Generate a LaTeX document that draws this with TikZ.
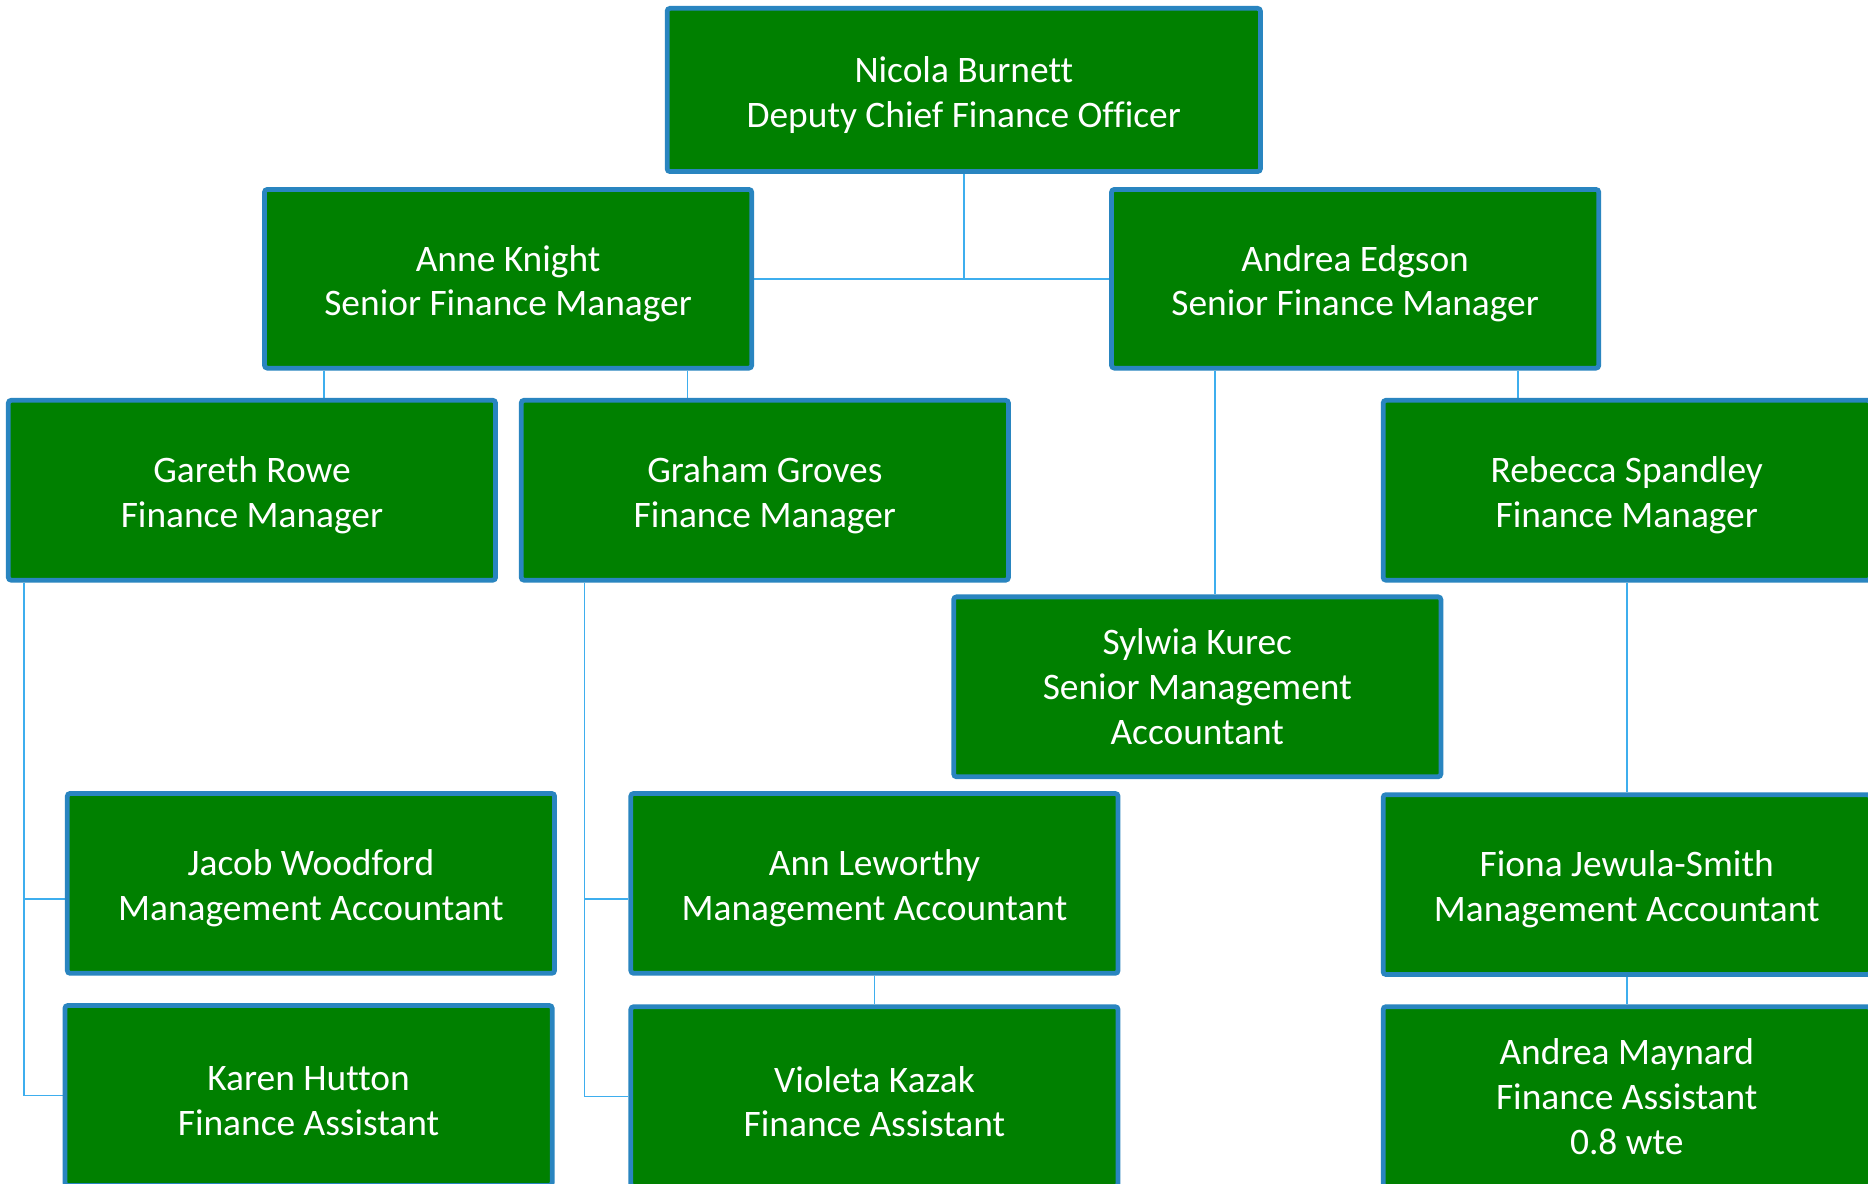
\documentclass[tikz,border=0pt]{standalone}
\usepackage{fontspec}
\setmainfont{Carlito}[Ligatures=NoCommon]
\usetikzlibrary{backgrounds}
\definecolor{boxgreen}{RGB}{0,128,0}
\definecolor{boxborder}{RGB}{41,133,192}
\definecolor{linkblue}{RGB}{62,174,238}
\newcommand{\toplift}{\rule{0pt}{15pt}}
\tikzset{
  person/.style={draw=boxborder, fill=boxgreen, line width=2pt, rounded corners=1.2pt,
    text=white, align=center, inner sep=0pt,
    minimum width=204.5pt, minimum height=75.5pt,
    font=\fontsize{15.7}{18.75}\selectfont},
  link/.style={draw=linkblue, line width=0.7pt}
}
\begin{document}
\begin{tikzpicture}[x=0.5pt, y=-0.5pt]
\useasboundingbox (0,0) rectangle (1568,993);
\clip (0,0) rectangle (1568,993);
\node[person, minimum width=249pt, minimum height=68.5pt] (nb) at (809,75.5) {\toplift Nicola Burnett\\Deputy Chief Finance Officer};
\node[person, minimum height=75pt] (ak) at (426.5,234) {\toplift Anne Knight\\Senior Finance Manager};
\node[person, minimum height=75pt] (ae) at (1137.5,234) {\toplift Andrea Edgson\\Senior Finance Manager};
\node[person] (gr) at (211.5,411.5) {\toplift Gareth Rowe\\Finance Manager};
\node[person] (gg) at (642,411.5) {\toplift Graham Groves\\Finance Manager};
\node[person] (rs) at (1365.5,411.5) {\toplift Rebecca Spandley\\Finance Manager};
\node[person] (sk) at (1005,576.5) {Sylwia Kurec\\Senior Management\\Accountant};
\node[person] (jw) at (261,741.5) {\toplift Jacob Woodford\\Management Accountant};
\node[person] (al) at (734,741.5) {\toplift Ann Leworthy\\Management Accountant};
\node[person] (fj) at (1365.5,742.5) {\toplift Fiona Jewula-Smith\\Management Accountant};
\node[person] (kh) at (259,919.5) {\toplift Karen Hutton\\Finance Assistant};
\node[person] (vk) at (734,920.5) {\toplift Violeta Kazak\\Finance Assistant};
\node[person] (am) at (1365.5,920.5) {Andrea Maynard\\Finance Assistant\\0.8 wte};
\coordinate (c1) at (272,0);
\coordinate (c2) at (577,0);
\coordinate (c3) at (1020,0);
\coordinate (c4) at (1274,0);
\coordinate (c5) at (20,0);
\coordinate (c6) at (490.5,0);
\coordinate (r1) at (0,754.5);
\begin{scope}[on background layer]
\fill[white] (0,0) rectangle (1568,993);
\draw[link] (nb.south) -- (nb.south |- ak.east);
\draw[link] (ak.east) -- (ae.west);
\draw[link] (ak.south -| c1) -- (gr.north -| c1);
\draw[link] (ak.south -| c2) -- (gg.north -| c2);
\draw[link] (ae.south -| c3) -- (sk.north -| c3);
\draw[link] (ae.south -| c4) -- (rs.north -| c4);
\draw[link] (gr.south -| c5) |- (kh.west);
\draw[link] (c5 |- r1) -- (jw.west |- r1);
\draw[link] (gg.south -| c6) |- (vk.west);
\draw[link] (c6 |- r1) -- (al.west |- r1);
\draw[link] (al.south) -- (vk.north);
\draw[link] (rs.south) -- (fj.north);
\draw[link] (fj.south) -- (am.north);
\end{scope}
\end{tikzpicture}
\end{document}
